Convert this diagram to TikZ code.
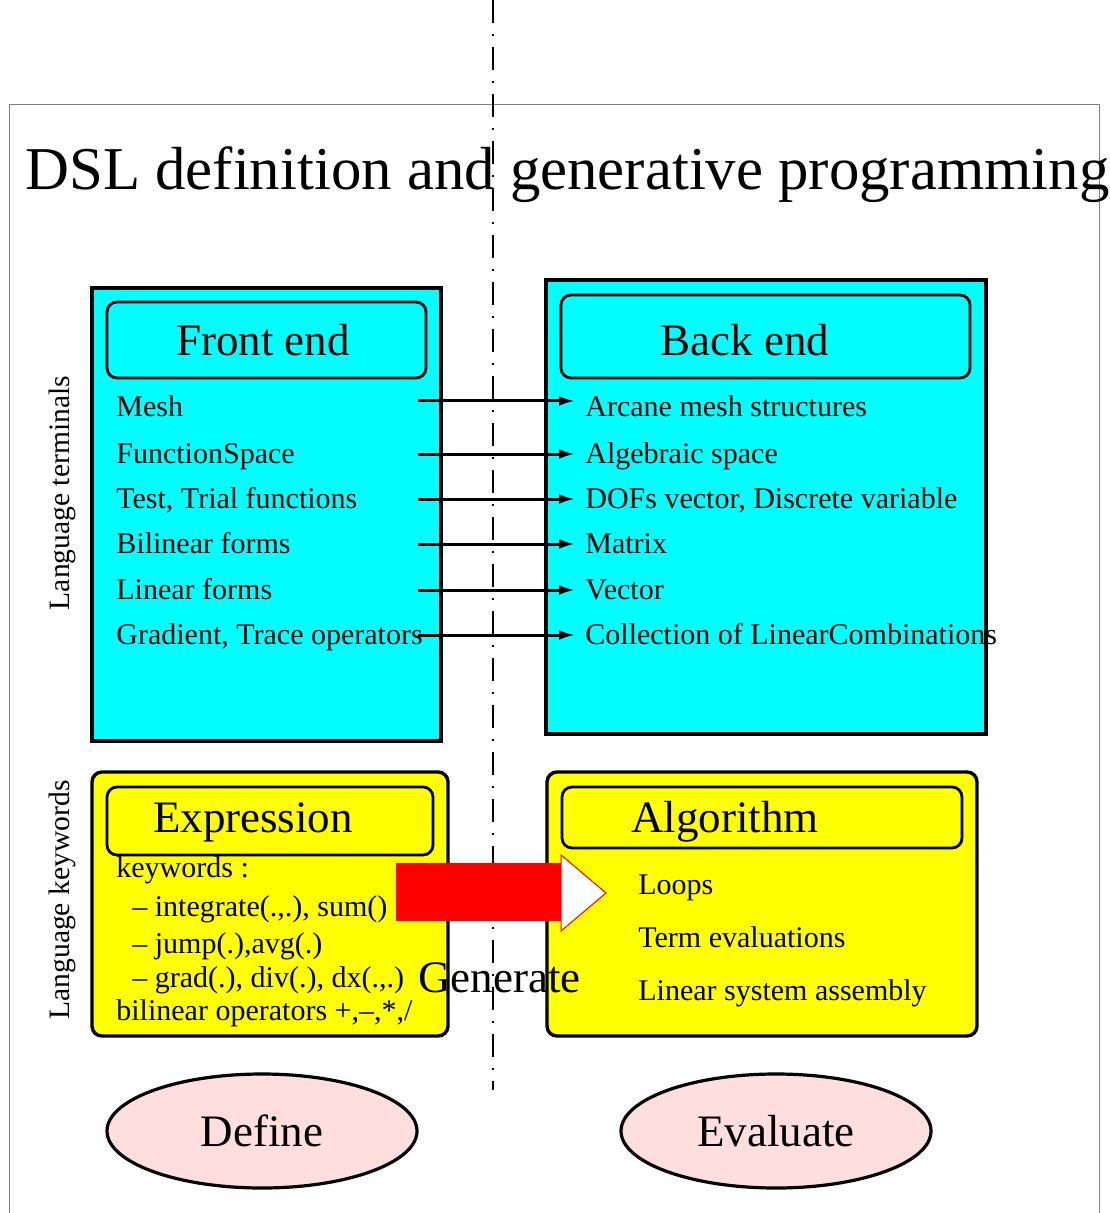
\documentclass[tikz,border=0pt]{standalone}
\usepackage{fontspec}
\setmainfont{Liberation Serif}
\usetikzlibrary{shapes.geometric,arrows.meta}
\definecolor{phasepink}{RGB}{255,222,222}
\definecolor{termcyan}{RGB}{0,255,255}
\definecolor{keyyellow}{RGB}{255,255,0}
\definecolor{genred}{RGB}{255,0,0}

\begin{document}
\begin{tikzpicture}[x=0.5pt, y=-0.5pt,
	big/.style={font=\fontsize{22.5}{27}\selectfont},
	item/.style={anchor=base west, inner sep=0pt, font=\fontsize{15}{18}\selectfont},
	side/.style={rotate=90, font=\fontsize{14.8}{17}\selectfont},
	panel/.style={line width=1.7pt},
	titlebox/.style={line width=1.4pt, rounded corners=5pt},
	phase/.style={draw, line width=1.6pt, fill=phasepink, ellipse, minimum width=155pt, minimum height=57pt, big},
	link/.style={line width=1.5pt, arrows={-Latex[length=8pt,width=5pt]}, shorten >=5pt}]
	\useasboundingbox (0,0) rectangle (1109,1213);
	\draw [gray, line width=0.5pt] (9,1240) -- (9,105) -- (1099,105) -- (1099,1240);
	\draw [line width=1.1pt, dash pattern=on 11.5pt off 5.5pt on 1pt off 5.5pt] (493,0) -- (493,1090);
	\node [anchor=base west, inner sep=0pt, font=\fontsize{30.4}{36}\selectfont] (title) at (25,190) {DSL definition and generative programming};

	\draw [panel, fill=termcyan] (92,288) rectangle (441,741);
	\draw [panel, fill=termcyan] (546,280) rectangle (986,734);
	\draw [panel, fill=keyyellow, rounded corners=5pt] (92,772) rectangle (448,1036);
	\draw [panel, fill=keyyellow, rounded corners=5pt] (547,772) rectangle (977,1036);
	\draw [titlebox] (107,302) rectangle (426,378)
					 (561,295) rectangle (970,378)
					 (107,787) rectangle (433,855)
					 (562,787) rectangle (962,848);
	\node [big, anchor=base] (front) at (263,356) {Front end};
	\node [big, anchor=base] (back) at (745,356) {Back end};
	\node [big, anchor=base] (expr) at (253,832) {Expression};
	\node [big, anchor=base] (algo) at (725,832) {Algorithm};

	\node [side] (terminals) at (62,493) {Language terminals};
	\node [side] (keywords) at (62,900) {Language keywords};

	\node [item] (l1) at (116,416) {Mesh};
	\node [item] (l2) at (116,463) {FunctionSpace};
	\node [item] (l3) at (116,508) {Test, Trial functions};
	\node [item] (l4) at (116,553) {Bilinear forms};
	\node [item] (l5) at (116,599) {Linear forms};
	\node [item] (l6) at (116,644) {Gradient, Trace operators};
	\node [item] (r1) at (585,416) {Arcane mesh structures};
	\node [item] (r2) at (585,463) {Algebraic space};
	\node [item] (r3) at (585,508) {DOFs vector, Discrete variable};
	\node [item] (r4) at (585,553) {Matrix};
	\node [item] (r5) at (585,599) {Vector};
	\node [item] (r6) at (585,644) {Collection of LinearCombinations};
	\coordinate (s1) at (418,401);
	\coordinate (s2) at (418,454);
	\coordinate (s3) at (418,499);
	\coordinate (s4) at (418,544);
	\coordinate (s5) at (418,590);
	\coordinate (s6) at (418,635);
	\draw [link] (s1) -- (s1 -| r1.west);
	\draw [link] (s2) -- (s2 -| r2.west);
	\draw [link] (s3) -- (s3 -| r3.west);
	\draw [link] (s4) -- (s4 -| r4.west);
	\draw [link] (s5) -- (s5 -| r5.west);
	\draw [link] (s6) -- (s6 -| r6.west);

	\node [item] (k1) at (116,877) {keywords :};
	\node [item] (k2) at (132,916) {– integrate(.,.), sum()};
	\node [item] (k3) at (132,953) {– jump(.),avg(.)};
	\node [item] (k4) at (132,987) {– grad(.), div(.), dx(.,.)};
	\node [item] (k5) at (116,1020) {bilinear operators +,–,*,/};
	\node [item] (a1) at (638,894) {Loops};
	\node [item] (a2) at (638,947) {Term evaluations};
	\node [item] (a3) at (638,1000) {Linear system assembly};

	\fill [genred] (396,863) rectangle (561,921);
	\draw [genred, fill=white, line width=0.5pt] (561,855) -- (606,893) -- (561,931) -- cycle;
	\node [big, anchor=base west, inner sep=0pt] (generate) at (418,992) {Generate};

	\node [phase] (define) at (262,1131) {Define};
	\node [phase] (evaluate) at (776,1131) {Evaluate};
\end{tikzpicture}
\end{document}
